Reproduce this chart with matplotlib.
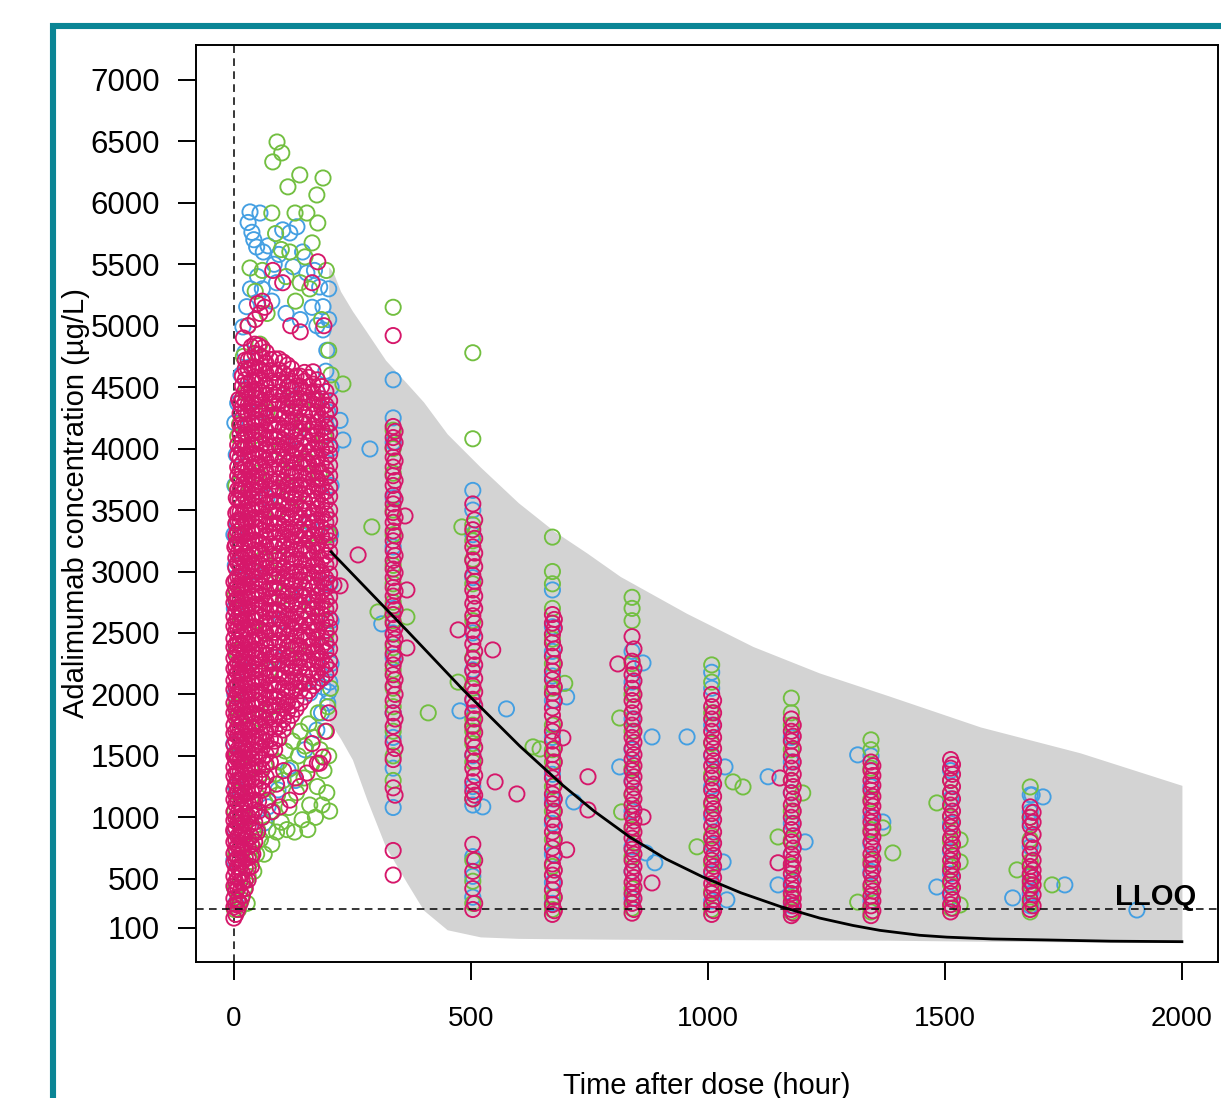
"""Adalimumab concentration vs. time after dose: observed data over the prediction band."""

import matplotlib.pyplot as plt
from matplotlib.lines import Line2D

plt.rcParams["font.family"] = ["Liberation Sans", "DejaVu Sans"]

# axes
X_TICKS = [0, 500, 1000, 1500, 2000]
Y_TICKS = [100, 500, 1000, 1500, 2000, 2500, 3000, 3500, 4000, 4500, 5000, 5500, 6000, 6500, 7000]
LLOQ = 250

# prediction band (grey) and median prediction (black line)
band_t = [200, 210, 225, 250, 280, 320, 365, 400, 450, 520, 600, 675, 745, 815, 955, 1095, 1235, 1380, 1575, 1785, 2000]
band_hi = [5480, 5430, 5280, 5120, 4950, 4720, 4530, 4380, 4120, 3850, 3560, 3330, 3150, 2960, 2660, 2390, 2175, 1990, 1735, 1525, 1260]
band_lo = [1790, 1730, 1640, 1470, 1150, 760, 466, 245, 85, 27, 15, 12, 10, 8, 6, 4, 2, 0, -8, -14, -18]

median_t = [205, 280, 365, 483, 603, 694, 760, 835, 912, 989, 1070, 1152, 1236, 1306, 1363, 1447, 1504, 1600, 1715, 1850, 2000]
median_c = [3160, 2860, 2520, 2040, 1580, 1260, 1050, 840, 660, 515, 385, 275, 180, 120, 80, 40, 25, 10, 2, -8, -12]

# sampling visits after the loading phase (hour) and concentrations per group
visit_times = [336, 504, 672, 840, 1008, 1176, 1344, 1512, 1680]
visit_times_b = [340, 508, 676, 844, 1012, 1180, 1348, 1516, 1686]

mag_visits = [
    [530, 730, 1240, 1470, 1610, 1740, 1850, 1950, 2070, 2160, 2240, 2330, 2410, 2490, 2580, 2650, 2720, 2800,
     2870, 2950, 3020, 3090, 3170, 3250, 3330, 3400, 3480, 3550, 3620, 3700, 3780, 3850, 3930, 4010, 4090, 4180, 4920],
    [250, 420, 560, 780, 1150, 1210, 1290, 1400, 1510, 1630, 1740, 1850, 1960, 2070, 2190, 2290, 2410, 2520,
     2640, 2740, 2850, 2970, 3090, 3200, 3340, 3550],
    [210, 290, 410, 530, 620, 750, 880, 980, 1110, 1190, 1320, 1390, 1510, 1620, 1700, 1830, 1890, 2010, 2120,
     2190, 2310, 2420, 2490, 2580, 2650],
    [220, 300, 380, 470, 560, 650, 740, 830, 920, 1010, 1100, 1190, 1290, 1380, 1470, 1560, 1650, 1750, 1850,
     1950, 2050, 2160, 2270, 2470],
    [210, 290, 380, 460, 560, 650, 740, 830, 930, 1030, 1120, 1220, 1320, 1420, 1510, 1610, 1700, 1800, 1900, 2000],
    [200, 250, 310, 380, 450, 540, 620, 700, 800, 900, 1000, 1100, 1200, 1300, 1400, 1500, 1620, 1700, 1800],
    [200, 280, 360, 450, 540, 620, 700, 800, 880, 960, 1050, 1130, 1220, 1300, 1380, 1450],
    [230, 290, 380, 480, 570, 650, 740, 830, 920, 1010, 1100, 1200, 1300, 1400, 1470],
    [250, 330, 420, 480, 540, 600, 700, 800, 930, 1000, 1085],
]
mag_visits_b = [
    [1180, 1560, 1800, 2000, 2120, 2290, 2450, 2540, 2690, 2840, 2990, 3130, 3290, 3440, 3590, 3740, 3900, 4050, 4140],
    [300, 650, 1180, 1340, 1460, 1570, 1690, 1800, 1910, 2020, 2130, 2240, 2350, 2470, 2580, 2700, 2800, 2920,
     3040, 3150, 3270, 3420],
    [240, 350, 470, 570, 690, 820, 930, 1050, 1150, 1260, 1450, 1560, 1760, 1950, 2060, 2250, 2370, 2540, 2610],
    [250, 340, 430, 510, 600, 700, 790, 880, 970, 1060, 1150, 1240, 1330, 1420, 1510, 1610, 1700, 1800, 1900,
     2000, 2110, 2210, 2370],
    [240, 330, 420, 510, 600, 690, 790, 880, 980, 1070, 1170, 1270, 1370, 1460, 1560, 1650, 1750, 1850, 1950],
    [220, 280, 340, 410, 490, 580, 660, 750, 850, 950, 1050, 1150, 1250, 1350, 1450, 1560, 1660, 1750],
    [240, 320, 400, 490, 580, 660, 750, 840, 920, 1000, 1090, 1170, 1260, 1340, 1420],
    [260, 330, 430, 520, 610, 690, 780, 870, 960, 1050, 1150, 1250, 1350, 1430],
    [280, 370, 450, 510, 570, 650, 750, 860, 960, 1040],
]
green_visits = [
    [1300, 1500, 1700, 1900, 2050, 2200, 2380, 2600, 2750, 2900, 3050, 3300, 3500, 3800, 4000, 4150, 5150],
    [300, 480, 650, 1150, 1450, 1600, 1700, 1750, 1800, 2050, 2300, 2600, 2900, 3100, 3250, 3380, 4080, 4780],
    [250, 350, 600, 820, 1050, 1250, 1450, 1550, 1750, 2050, 2250, 2450, 2700, 2900, 3000, 3280],
    [260, 420, 680, 900, 1180, 1400, 1700, 2000, 2250, 2600, 2700, 2790],
    [250, 400, 620, 850, 1100, 1350, 1600, 1850, 2100, 2240],
    [230, 350, 600, 820, 1050, 1300, 1550, 1750, 1850, 1970],
    [230, 420, 650, 900, 1150, 1400, 1550, 1630],
    [260, 450, 600, 800, 1000, 1200, 1300],
    [230, 300, 450, 640, 820, 1000, 1247],
]
blue_visits = [
    [1080, 1400, 1650, 1850, 2300, 2500, 2700, 3200, 3600, 4050, 4250, 4560],
    [350, 520, 680, 1100, 1250, 1500, 1950, 2200, 2500, 2950, 3300, 3500, 3660],
    [300, 470, 700, 950, 1150, 1350, 1650, 1950, 2150, 2350, 2550, 2850],
    [340, 560, 760, 1050, 1300, 1550, 1800, 2100, 2350],
    [320, 540, 780, 1000, 1250, 1500, 1750, 2050, 2180],
    [280, 480, 700, 950, 1200, 1450, 1650],
    [320, 560, 780, 1000, 1250, 1500],
    [350, 540, 720, 950, 1150, 1380],
    [280, 380, 520, 760, 960, 1044, 1182],
]

# dense loading phase (0-200 h), magenta group, read column by column
blob_times = [0, 4, 8, 13, 18, 24, 30, 37, 44, 52, 60, 68, 77, 86, 95, 104, 113, 122, 131, 140, 149, 158, 167,
              176, 185, 194, 202]
blob_mag = [
    [180, 270, 340, 440, 520, 630, 705, 800, 885, 975, 1045, 1145, 1225, 1335, 1410, 1505, 1590, 1680, 1750, 1850,
     1930, 2040, 2115, 2210, 2295, 2385, 2455, 2555, 2635, 2745, 2820, 2915],
    [210, 290, 400, 475, 570, 655, 745, 815, 915, 995, 1105, 1180, 1275, 1360, 1450, 1520, 1620, 1700, 1810, 1885,
     1980, 2065, 2155, 2225, 2325, 2405, 2515, 2590, 2685, 2770, 2860, 2930, 3030, 3110, 3220, 3295, 3390, 3475],
    [250, 325, 420, 505, 595, 665, 765, 845, 955, 1030, 1125, 1210, 1300, 1370, 1470, 1550, 1660, 1735, 1830, 1915,
     2005, 2075, 2175, 2255, 2365, 2440, 2535, 2620, 2710, 2780, 2880, 2960, 3070, 3145, 3240, 3325, 3415, 3485,
     3585, 3665, 3775, 3850, 3945, 4030],
    [300, 400, 480, 590, 665, 760, 845, 935, 1005, 1105, 1185, 1295, 1370, 1465, 1550, 1640, 1710, 1810, 1890, 2000,
     2075, 2170, 2255, 2345, 2415, 2515, 2595, 2705, 2780, 2875, 2960, 3050, 3120, 3220, 3300, 3410, 3485, 3580,
     3665, 3755, 3825, 3925, 4005, 4115, 4190, 4285, 4370],
    [360, 470, 545, 640, 725, 815, 885, 985, 1065, 1175, 1250, 1345, 1430, 1520, 1590, 1690, 1770, 1880, 1955, 2050,
     2135, 2225, 2295, 2395, 2475, 2585, 2660, 2755, 2840, 2930, 3000, 3100, 3180, 3290, 3365, 3460, 3545, 3635,
     3705, 3805, 3885, 3995, 4070, 4165, 4250, 4340, 4410, 4510, 4590],
    [420, 490, 590, 670, 780, 855, 950, 1035, 1125, 1195, 1295, 1375, 1485, 1560, 1655, 1740, 1830, 1900, 2000, 2080,
     2190, 2265, 2360, 2445, 2535, 2605, 2705, 2785, 2895, 2970, 3065, 3150, 3240, 3310, 3410, 3490, 3600, 3675,
     3770, 3855, 3945, 4015, 4115, 4195, 4305, 4380, 4475, 4560, 4650, 4720],
    [490, 585, 670, 760, 830, 930, 1010, 1120, 1195, 1290, 1375, 1465, 1535, 1635, 1715, 1825, 1900, 1995, 2080,
     2170, 2240, 2340, 2420, 2530, 2605, 2700, 2785, 2875, 2945, 3045, 3125, 3235, 3310, 3405, 3490, 3580, 3650,
     3750, 3830, 3940, 4015, 4110, 4195, 4285, 4355, 4455, 4535, 4645, 4720],
    [600, 685, 775, 845, 945, 1025, 1135, 1210, 1305, 1390, 1480, 1550, 1650, 1730, 1840, 1915, 2010, 2095, 2185,
     2255, 2355, 2435, 2545, 2620, 2715, 2800, 2890, 2960, 3060, 3140, 3250, 3325, 3420, 3505, 3595, 3665, 3765,
     3845, 3955, 4030, 4125, 4210, 4300, 4370, 4470, 4550, 4660, 4735, 4830],
    [800, 890, 960, 1060, 1140, 1250, 1325, 1420, 1505, 1595, 1665, 1765, 1845, 1955, 2030, 2125, 2210, 2300, 2370,
     2470, 2550, 2660, 2735, 2830, 2915, 3005, 3075, 3175, 3255, 3365, 3440, 3535, 3620, 3710, 3780, 3880, 3960,
     4070, 4145, 4240, 4325, 4415, 4485, 4585, 4665, 4775, 4850],
    [1050, 1130, 1240, 1315, 1410, 1495, 1585, 1655, 1755, 1835, 1945, 2020, 2115, 2200, 2290, 2360, 2460, 2540,
     2650, 2725, 2820, 2905, 2995, 3065, 3165, 3245, 3355, 3430, 3525, 3610, 3700, 3770, 3870, 3950, 4060, 4135,
     4230, 4315, 4405, 4475, 4575, 4655, 4765, 4840],
    [1220, 1295, 1390, 1475, 1565, 1635, 1735, 1815, 1925, 2000, 2095, 2180, 2270, 2340, 2440, 2520, 2630, 2705,
     2800, 2885, 2975, 3045, 3145, 3225, 3335, 3410, 3505, 3590, 3680, 3750, 3850, 3930, 4040, 4115, 4210, 4295,
     4385, 4455, 4555, 4635, 4745, 4820],
    [1330, 1430, 1510, 1620, 1695, 1790, 1875, 1965, 2035, 2135, 2215, 2325, 2400, 2495, 2580, 2670, 2740, 2840,
     2920, 3030, 3105, 3200, 3285, 3375, 3445, 3545, 3625, 3735, 3810, 3905, 3990, 4080, 4150, 4250, 4330, 4440,
     4515, 4610, 4695, 4785],
    [1450, 1560, 1635, 1730, 1815, 1905, 1975, 2075, 2155, 2265, 2340, 2435, 2520, 2610, 2680, 2780, 2860, 2970,
     3045, 3140, 3225, 3315, 3385, 3485, 3565, 3675, 3750, 3845, 3930, 4020, 4090, 4190, 4270, 4380, 4455, 4550,
     4635, 4725],
    [1550, 1620, 1720, 1800, 1910, 1985, 2080, 2165, 2255, 2325, 2425, 2505, 2615, 2690, 2785, 2870, 2960, 3030,
     3130, 3210, 3320, 3395, 3490, 3575, 3665, 3735, 3835, 3915, 4025, 4100, 4195, 4280, 4370, 4440, 4540, 4620,
     4730],
    [1640, 1735, 1820, 1910, 1980, 2080, 2160, 2270, 2345, 2440, 2525, 2615, 2685, 2785, 2865, 2975, 3050, 3145,
     3230, 3320, 3390, 3490, 3570, 3680, 3755, 3850, 3935, 4025, 4095, 4195, 4275, 4385, 4460, 4555, 4640, 4730],
    [1710, 1795, 1885, 1955, 2055, 2135, 2245, 2320, 2415, 2500, 2590, 2660, 2760, 2840, 2950, 3025, 3120, 3205,
     3295, 3365, 3465, 3545, 3655, 3730, 3825, 3910, 4000, 4070, 4170, 4250, 4360, 4435, 4530, 4615, 4705],
    [1770, 1860, 1930, 2030, 2110, 2220, 2295, 2390, 2475, 2565, 2635, 2735, 2815, 2925, 3000, 3095, 3180, 3270,
     3340, 3440, 3520, 3630, 3705, 3800, 3885, 3975, 4045, 4145, 4225, 4335, 4410, 4505, 4590, 4680],
    [1830, 1910, 2020, 2095, 2190, 2275, 2365, 2435, 2535, 2615, 2725, 2800, 2895, 2980, 3070, 3140, 3240, 3320,
     3430, 3505, 3600, 3685, 3775, 3845, 3945, 4025, 4135, 4210, 4305, 4390, 4480, 4550, 4650],
    [1880, 1955, 2050, 2135, 2225, 2295, 2395, 2475, 2585, 2660, 2755, 2840, 2930, 3000, 3100, 3180, 3290, 3365,
     3460, 3545, 3635, 3705, 3805, 3885, 3995, 4070, 4165, 4250, 4340, 4410, 4510, 4590],
    [1930, 2030, 2110, 2220, 2295, 2390, 2475, 2565, 2635, 2735, 2815, 2925, 3000, 3095, 3180, 3270, 3340, 3440,
     3520, 3630, 3705, 3800, 3885, 3975, 4045, 4145, 4225, 4335, 4410, 4505, 4590],
    [1980, 2090, 2165, 2260, 2345, 2435, 2505, 2605, 2685, 2795, 2870, 2965, 3050, 3140, 3210, 3310, 3390, 3500,
     3575, 3670, 3755, 3845, 3915, 4015, 4095, 4205, 4280, 4375, 4460, 4550, 4620],
    [2030, 2100, 2200, 2280, 2390, 2465, 2560, 2645, 2735, 2805, 2905, 2985, 3095, 3170, 3265, 3350, 3440, 3510,
     3610, 3690, 3800, 3875, 3970, 4055, 4145, 4215, 4315, 4395, 4505, 4580],
    [2070, 2165, 2250, 2340, 2410, 2510, 2590, 2700, 2775, 2870, 2955, 3045, 3115, 3215, 3295, 3405, 3480, 3575,
     3660, 3750, 3820, 3920, 4000, 4110, 4185, 4280, 4365, 4455, 4525, 4625],
    [2100, 2185, 2275, 2345, 2445, 2525, 2635, 2710, 2805, 2890, 2980, 3050, 3150, 3230, 3340, 3415, 3510, 3595,
     3685, 3755, 3855, 3935, 4045, 4120, 4215, 4300, 4390, 4460, 4560],
    [2130, 2220, 2290, 2390, 2470, 2580, 2655, 2750, 2835, 2925, 2995, 3095, 3175, 3285, 3360, 3455, 3540, 3630,
     3700, 3800, 3880, 3990, 4065, 4160, 4245, 4335, 4405, 4505],
    [2160, 2240, 2350, 2425, 2520, 2605, 2695, 2765, 2865, 2945, 3055, 3130, 3225, 3310, 3400, 3470, 3570, 3650,
     3760, 3835, 3930, 4015, 4105, 4175, 4275, 4355, 4465],
    [2200, 2275, 2370, 2455, 2545, 2615, 2715, 2795, 2905, 2980, 3075, 3160, 3250, 3320, 3420, 3500, 3610, 3685,
     3780, 3865, 3955, 4025, 4125, 4205, 4315, 4390],
]

# remaining individual points (time, concentration) per group
mag_extra_t = [55, 60, 50, 65, 45, 82, 103, 165, 177, 120, 140, 190, 20, 10, 30, 2, 5, 0, 2,
               154, 181, 139, 118, 97, 80, 130, 188, 176, 72, 90, 105, 60, 40, 50, 165, 195, 200,
               211, 224, 262, 361, 365, 365, 473, 546, 551, 597, 694, 747, 747, 702, 810, 882, 863, 1152, 1148]
mag_extra_c = [5100, 5200, 5180, 5150, 5050, 5450, 5350, 5350, 5520, 5000, 4950, 5000, 4900, 4400, 5000, 3200,
               3600, 900, 1500,
               1360, 1440, 1250, 1140, 1085, 1045, 1320, 1490, 1440, 1140, 1270, 1380, 1000, 700, 880, 1600, 1700,
               1850,
               2890, 2883, 3135, 3452, 2850, 2378, 2525, 2362, 1288, 1190, 1646, 1330, 1060, 735, 2248, 466, 1003,
               1320, 630]

green_extra_t = [91, 101, 82, 139, 188, 114, 175, 177, 80, 129, 154, 165, 34, 118, 150, 100, 60, 45, 30, 20,
                 55, 130, 160, 185, 200, 88, 140, 110, 70, 195, 205, 12, 25,
                 2, 4, 2, 6, 3, 5, 2, 7, 4, 8, 10, 1, 6,
                 10, 16, 22, 28, 30, 36, 42, 40, 48, 50, 56, 60, 64, 66, 72, 74, 80, 82, 86, 90,
                 92, 96, 100, 104, 108, 112, 116, 120, 124, 128, 132, 136, 140, 144, 148, 150, 156, 158, 160, 164,
                 168, 172, 176, 178, 182, 186, 190, 192, 196, 198, 200, 202, 204,
                 30, 45, 60, 75, 90, 105, 120, 135, 150, 165, 180, 195, 25, 40, 55, 70, 85, 100, 115, 130,
                 145, 160, 175, 190, 35, 50, 65, 80, 95, 110, 125, 140, 155, 170, 185, 200, 15, 20, 10,
                 230, 291, 304, 365, 410, 481, 473, 646, 698, 631, 814, 818, 977, 1053, 1074, 1148, 1200, 1316,
                 1390, 1369, 1483, 1532, 1532, 1532, 1652, 1726]
green_extra_c = [6495, 6406, 6333, 6227, 6202, 6130, 6064, 5836, 5917, 5917, 5917, 5674, 5470, 5600, 5560, 5620,
                 5450, 5280, 5000, 4750, 4850, 5200, 5300, 5050, 4800, 5750, 5350, 5400, 5100, 5450, 4600, 4200,
                 4450,
                 420, 700, 1050, 1500, 1900, 2350, 2800, 3300, 3700, 4100, 300, 250, 1200,
                 250, 330, 420, 300, 520, 640, 560, 760, 700, 900, 820, 1000, 700, 1120, 900, 1250, 780, 1050,
                 1350, 880, 1180, 1450, 960, 1300, 1540, 900, 1080, 1400, 1620, 880, 1200, 1500, 1700, 980, 1320,
                 1580, 900, 1760, 1100, 1430, 1650, 1000, 1250, 1850, 1550, 1100, 1380, 1700, 1200, 1900, 1500,
                 1050, 2050,
                 2000, 2600, 3100, 2200, 3500, 2800, 3900, 2400, 3300, 2700, 3800, 2500, 3400, 4100, 1800, 4300,
                 2900, 4000, 2300, 3600, 4200, 2900, 3200, 4100, 1400, 3800, 2500, 1900, 3100, 3700, 4400, 2100,
                 3900, 4400, 2700, 3300, 2600, 1000, 1800,
                 4526, 3363, 2671, 2630, 1850, 3363, 2100, 1556, 2090, 1573, 1808, 1044, 760, 1288, 1247, 840,
                 1198, 310, 710, 914, 1117, 816, 637, 287, 572, 450]

blue_extra_t = [34, 55, 30, 38, 42, 103, 118, 133, 48, 62, 72, 125, 154, 181, 188, 27, 19, 23, 188, 196,
                194, 8, 2, 85, 95, 145, 165, 175, 200, 200, 60, 80, 110, 140, 50, 35, 15, 170, 90, 205, 198,
                0, 2, 4, 1, 3, 6, 2, 5, 0, 2, 4, 1, 3, 0,
                188, 160, 175, 114, 93, 72, 65, 200, 202, 198, 205, 195, 185, 150, 130, 205, 203, 204, 205, 205, 202,
                40, 70, 100, 130, 160, 190, 55, 85, 115, 145, 175, 25,
                224, 230, 287, 312, 477, 575, 525, 702, 717, 814, 863, 882, 888, 869, 956, 1036, 1032, 1040,
                1127, 1148, 1205, 1316, 1369, 1483, 1643, 1753, 1905, 1707, 1684]
blue_extra_c = [5926, 5917, 5840, 5760, 5700, 5780, 5755, 5805, 5640, 5600, 5650, 5480, 5430, 5315, 5155, 5155,
                4990, 4780, 4966, 4800, 4630, 4370, 4210, 5500, 5580, 5600, 5150, 5000, 5300, 5050, 5300, 5200,
                5100, 5050, 5400, 5300, 4600, 5450, 5350, 4500, 4300,
                1600, 2000, 2350, 2700, 3050, 3400, 3700, 3950, 650, 420, 300, 900, 1250, 3300,
                2060, 2010, 1710, 1385, 1223, 1085, 955, 2020, 2100, 1930, 2250, 2400, 1850, 1550, 1300, 2600,
                2900, 3300, 3700, 4000, 4200,
                3000, 3600, 2600, 4100, 3400, 2900, 4300, 2300, 4500, 2800, 4400, 2200,
                4230, 4070, 3997, 2574, 1866, 1882, 1085, 1980, 1125, 1410, 2256, 1654, 630, 710, 1654, 1410, 637,
                328, 1330, 450, 800, 1508, 962, 433, 344, 450, 246, 1166, 1182]

BLUE = "#449fe2"
GREEN = "#72bf40"
MAGENTA = "#d6176a"


def collect(column_sets, extra_t, extra_c):
    """Flatten (times, columns) sets into matching time / concentration lists."""
    ts, cs = [], []
    for times, columns in column_sets:
        for t, col in zip(times, columns):
            ts += [t] * len(col)
            cs += col
    return ts + extra_t, cs + extra_c


def draw() -> None:
    fig = plt.figure(figsize=(12.21, 10.98), dpi=100)
    ax = fig.add_axes([0.1605, 0.1239, 0.8370, 0.8352])

    # teal frame of the source figure
    fx = 53 / 1221
    fy = 1 - 25.5 / 1098
    fig.add_artist(Line2D([fx, fx, 1.02], [-0.02, fy, fy], transform=fig.transFigure,
                          color="#0a8595", lw=4.4, solid_joinstyle="miter"))

    ax.fill_between(band_t, band_lo, band_hi, color="#d3d3d3", lw=0, zorder=1)
    ax.axvline(0, color="black", lw=1.1, ls=(0, (5, 3.5)), zorder=2)

    groups = [
        (BLUE, collect([(visit_times, blue_visits)], blue_extra_t, blue_extra_c)),
        (GREEN, collect([(visit_times, green_visits)], green_extra_t, green_extra_c)),
        (MAGENTA, collect([(blob_times, blob_mag), (visit_times, mag_visits), (visit_times_b, mag_visits_b)],
                          mag_extra_t, mag_extra_c)),
    ]
    for color, (ts, cs) in groups:
        ax.scatter(ts, cs, s=120, facecolors="none", edgecolors=color, linewidths=1.35, zorder=3)

    ax.plot(median_t, median_c, color="black", lw=2.0, zorder=4)
    ax.axhline(LLOQ, color="black", lw=1.1, ls=(0, (5, 3.5)), zorder=5)
    ax.text(2030, 290, "LLOQ", ha="right", va="baseline", fontsize=21, fontweight="bold", zorder=6)

    ax.set_xlim(-80, 2076)
    ax.set_ylim(-177, 7285)
    ax.set_xticks(X_TICKS)
    ax.set_yticks(Y_TICKS)
    ax.tick_params(direction="out", length=13, width=1.4, color="black")
    ax.tick_params(axis="y", labelsize=22.5, pad=13)
    ax.tick_params(axis="x", labelsize=20, pad=19)
    for spine in ax.spines.values():
        spine.set_linewidth(1.4)

    ax.set_xlabel("Time after dose (hour)", fontsize=21)
    ax.xaxis.set_label_coords(0.5, -0.12)
    ax.set_ylabel("Adalimumab concentration (µg/L)", fontsize=21)
    ax.yaxis.set_label_coords(-0.1037, 0.5)

    fig.savefig("out.png", dpi=100)


if __name__ == "__main__":
    draw()
